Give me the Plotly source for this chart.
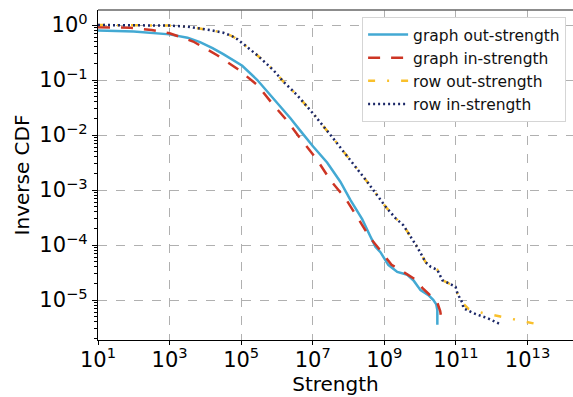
import numpy as np
import plotly.graph_objects as go

# Complementary CDF of node strengths, stored as log10 values (x: strength, y: inverse CDF)
graph_out_log_s = [1.00, 2.00, 3.00, 3.50, 3.85, 4.20, 4.50, 4.69, 5.03, 5.45, 5.90, 6.37,
                   6.65, 7.01, 7.40, 7.77, 8.05, 8.38, 8.60, 8.75, 8.89, 9.11, 9.36, 9.64,
                   9.81, 10.01, 10.23, 10.37, 10.45, 10.48, 10.48]
graph_out_log_p = [-0.10, -0.12, -0.17, -0.23, -0.31, -0.42, -0.53, -0.60, -0.74, -1.00, -1.33, -1.69,
                   -1.92, -2.21, -2.50, -2.85, -3.18, -3.53, -3.83, -4.03, -4.13, -4.36, -4.49, -4.54,
                   -4.64, -4.82, -4.91, -5.00, -5.08, -5.18, -5.45]

graph_in_log_s = [1.00, 1.90, 2.50, 3.00, 3.66, 4.33, 4.90, 5.45, 5.87, 6.23, 6.65, 7.12,
                  7.49, 7.91, 8.24, 8.58, 9.00, 9.20, 9.36, 9.55, 9.68, 9.85, 9.98, 10.06,
                  10.37, 10.48, 10.56, 10.62]
graph_in_log_p = [-0.04, -0.05, -0.09, -0.15, -0.30, -0.55, -0.80, -1.09, -1.43, -1.70, -2.06, -2.45,
                  -2.82, -3.15, -3.49, -3.85, -4.19, -4.36, -4.42, -4.50, -4.56, -4.62, -4.70, -4.78,
                  -4.97, -5.05, -5.20, -5.45]

row_out_log_s = [1.00, 2.00, 3.00, 3.50, 3.85, 4.20, 4.50, 4.74, 4.90, 5.03, 5.45, 5.90,
                 6.18, 6.57, 7.01, 7.57, 8.05, 8.52, 9.03, 9.31, 9.53, 9.73, 9.92, 10.15,
                 10.30, 10.48, 10.62, 10.90, 10.99, 11.04, 11.18, 11.35, 11.77, 12.24, 12.72,
                 13.28]
row_out_log_p = [0.00, 0.00, -0.01, -0.03, -0.06, -0.10, -0.14, -0.20, -0.26, -0.33, -0.55, -0.82,
                 -1.03, -1.28, -1.61, -2.06, -2.45, -2.85, -3.30, -3.51, -3.64, -3.85, -4.04, -4.31,
                 -4.40, -4.45, -4.64, -4.73, -4.76, -4.88, -5.05, -5.16, -5.24, -5.30, -5.36,
                 -5.44]

row_in_log_s = [1.00, 2.00, 3.00, 3.50, 3.85, 4.20, 4.50, 4.74, 4.90, 5.03, 5.45, 5.90,
                6.18, 6.57, 7.01, 7.57, 8.05, 8.52, 9.03, 9.31, 9.53, 9.73, 9.92, 10.15,
                10.30, 10.48, 10.62, 10.90, 10.99, 11.04, 11.18, 11.21, 11.49, 11.88, 12.24]
row_in_log_p = [0.00, 0.00, -0.01, -0.03, -0.06, -0.10, -0.14, -0.20, -0.26, -0.33, -0.55, -0.82,
                -1.03, -1.28, -1.61, -2.06, -2.45, -2.85, -3.30, -3.51, -3.64, -3.85, -4.04, -4.31,
                -4.40, -4.45, -4.64, -4.73, -4.76, -4.88, -5.05, -5.15, -5.24, -5.33, -5.44]

x_tick_exps = [1, 3, 5, 7, 9, 11, 13]
y_tick_exps = [0, -1, -2, -3, -4, -5]

MINUS = "\u2212"


def pow_label(e):
    return "10<sup>" + (MINUS if e < 0 else "") + str(abs(e)) + "</sup>"


series = [
    ("graph out-strength", graph_out_log_s, graph_out_log_p, "#43a9d3", "solid"),
    ("graph in-strength", graph_in_log_s, graph_in_log_p, "#cd3524", "12px,11px"),
    ("row out-strength", row_out_log_s, row_out_log_p, "#f9c02c", "7px,12px,2px,12px"),
    ("row in-strength", row_in_log_s, row_in_log_p, "#1c2868", "2px,3px"),
]

fig = go.Figure()
for name, ls, lp, color, dash in series:
    fig.add_trace(go.Scatter(
        x=10 ** np.array(ls), y=10 ** np.array(lp), mode="lines", name=name,
        line=dict(color=color, width=2.5, dash=dash),
    ))

FONT = "DejaVu Sans"
grid = dict(showgrid=True, gridcolor="#b0b0b0", gridwidth=1, griddash="dash")

fig.update_layout(
    width=573, height=397,
    margin=dict(l=98, r=0, t=10, b=57),
    paper_bgcolor="white", plot_bgcolor="white",
    font=dict(family=FONT, size=20, color="black"),
    showlegend=True,
    legend=dict(
        x=0.556, y=0.979, xanchor="left", yanchor="top",
        bgcolor="white", bordercolor="#d5d5d5", borderwidth=1,
        font=dict(family=FONT, size=15.5, color="#111111"),
        itemwidth=40,
    ),
    xaxis=dict(
        type="log", range=[1.0, 14.27], **grid,
        tickvals=[10.0 ** e for e in x_tick_exps],
        ticktext=[pow_label(e) for e in x_tick_exps],
        tickfont=dict(size=21), ticklabelstandoff=-3,
        ticks="outside", ticklen=4, tickcolor="black",
        showline=True, linecolor="black", linewidth=1.2,
        zeroline=False,
        title=dict(text="Strength", font=dict(size=20), standoff=2),
    ),
    yaxis=dict(
        type="log", range=[-5.727, 0.273], **grid,
        tickvals=[10.0 ** e for e in y_tick_exps],
        ticktext=[pow_label(e) for e in y_tick_exps],
        tickfont=dict(size=21),
        ticks="outside", ticklen=5, tickcolor="black",
        minor=dict(ticks="outside", ticklen=3, tickcolor="black", dtick="D1", showgrid=False),
        showline=True, linecolor="black", linewidth=1.2,
        zeroline=False,
        title=dict(text="Inverse CDF", font=dict(size=20), standoff=4),
    ),
    shapes=[dict(type="line", xref="paper", yref="paper", x0=0, x1=1, y0=1, y1=1,
                 line=dict(color="#666666", width=1.5))],
)

fig.write_html("out.html")
